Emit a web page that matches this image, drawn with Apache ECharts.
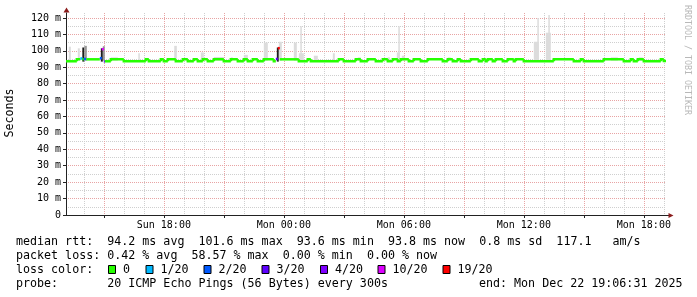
<!DOCTYPE html>
<html><head><meta charset="utf-8">
<script src="https://cdn.jsdelivr.net/npm/echarts@6/dist/echarts.min.js"></script>
<style>html,body{margin:0;padding:0;background:#fff}#c{width:697px;height:297px}</style>
</head><body><div id="c"></div>
<script>
// ---- time range (hours since Sun 00:00) ----
const T0 = 13 + 6/60 + 31/3600;   // Sun 13:06:31
const T1 = T0 + 30;               // Mon 19:06:31

// ---- median rtt runs: start hour, value (ms), pings lost out of 20 ----
const medianStart = [13.109,13.65,13.825,13.925,14.00,14.125,14.80,14.90,15.00,15.05,
  15.35,16.00,17.10,17.25,17.85,18.00,18.20,18.60,18.95,19.20,
  19.50,19.70,19.95,20.20,20.50,21.00,21.35,21.70,22.00,22.20,
  22.45,22.70,23.00,23.50,23.60,23.70,23.80,24.75,25.20,25.35,
  26.75,27.00,27.60,27.85,28.20,28.60,28.95,29.20,29.45,29.70,
  29.85,30.25,30.50,30.85,31.20,31.95,32.20,32.45,32.70,32.85,
  33.35,33.75,33.95,34.10,34.20,34.45,34.60,34.95,35.20,35.50,
  35.60,36.00,37.50,38.50,38.85,39.00,40.00,41.00,41.35,41.50,
  41.70,42.00,42.85,43.00];
const medianValue = [93.6,94.8,95.3,94.8,95.0,94.8,95.5,101.0,93.4,93.6,
  94.8,93.6,94.8,93.6,94.8,93.6,94.8,93.6,94.8,93.6,
  94.8,93.6,94.8,93.6,94.8,93.6,94.8,93.6,94.8,93.6,
  94.8,93.6,94.8,93.6,95.0,101.6,94.8,93.6,94.8,93.6,
  94.8,93.6,94.8,93.6,94.8,93.6,94.8,93.6,94.8,93.6,
  94.8,93.6,94.8,93.6,94.8,93.6,94.8,93.6,94.8,93.6,
  94.8,93.6,94.8,93.6,94.8,93.6,94.8,93.6,94.8,93.6,
  94.8,93.6,94.8,93.6,94.8,93.6,94.8,93.6,94.8,93.6,
  94.8,93.6,94.8,93.8];
const medianLoss = [0,0,1,0,2,0,2,10,3,0,
  0,0,0,0,0,0,0,0,0,0,
  0,0,0,0,0,0,0,0,0,0,
  0,0,0,0,3,19,0,0,0,0,
  0,0,0,0,0,0,0,0,0,0,
  0,0,0,0,0,0,0,0,0,0,
  0,0,0,0,0,0,0,0,0,0,
  0,0,0,0,0,0,0,0,0,0,
  0,0,0,0];

// ---- smoke (ping spread) bars: start hour, end hour, low ms, high ms, shade ----
const smokeStart = [13.25,13.70,13.925,14.025,14.85,14.95,15.35,16.725,18.52,19.85,
  20.50,21.35,22.00,23.00,23.65,23.75,24.50,24.75,24.825,25.50,
  26.45,27.70,29.20,29.65,29.725,29.90,32.20,36.50,36.675,37.10,
  37.225,40.35,41.75];
const smokeEnd = [13.35,13.80,14.025,14.15,14.95,15.05,15.70,16.80,18.65,20.00,
  21.00,21.45,22.20,23.20,23.75,23.90,24.65,25.00,24.90,25.70,
  26.55,27.85,29.30,29.80,29.80,30.05,32.35,36.75,36.75,37.35,
  37.30,40.70,41.95];
const smokeLow = [94,94,93.4,94,93.4,94,94,94,94,94,
  94,94,94,94,93.4,94,94,94,94,94,
  94,94,94,94,94,94,94,94,94,94,
  94,94,94];
const smokeHigh = [102.5,101.5,102,103,101.5,102.8,96,98.5,103,99,
  96.2,96,97.5,105,102,105.5,105,98.5,115,97,
  98.5,96,96,99,115,97,96,105.5,120,111,
  121.8,96,96];
const smokeShade = [0,0,2,1,2,1,0,0,0,0,
  0,0,0,0,2,0,0,0,0,0,
  0,0,0,0,0,0,0,0,0,0,
  0,0,0];

// ---- loss colour legend ----
const lossLevels = [0,1,2,3,4,10,19];
const lossLabels = ['0','1/20','2/20','3/20','4/20','10/20','19/20'];
const lossColors = ['#26ff00','#00b8ff','#0059ff','#5e00ff','#7e00ff','#dd00ff','#ff0000'];

// ---- summary statistics ----
const rttStats = [94.2,101.6,93.6,93.8,0.8];
const rttStatNames = ['avg','max','min','now','sd'];
const amPerSec = 117.1;
const lossStats = [0.42,58.57,0.00,0.00];
const lossStatNames = ['avg','max','min','now'];
const probeText = '20 ICMP Echo Pings (56 Bytes) every 300s';
const endText = 'end: Mon Dec 22 19:06:31 2025';

// ---- styling ----
const MONO = '"DejaVu Sans Mono", monospace';
const SHADES = ['#dcdcdc','#9a9a9a','#1e1e1e'];
const GRID_MINOR = '#cfcfcf', GRID_MAJOR = '#e8a4a4', AXIS = '#222', ARROW = '#8b1c1c';

function lossColor(l){ let c = lossColors[0]; lossLevels.forEach((lv,i)=>{ if (l >= lv) c = lossColors[i]; }); return c; }

const smokeData = smokeStart.map((s,i)=>[s, smokeEnd[i], smokeLow[i], smokeHigh[i], smokeShade[i]]);
const medianData = medianStart.map((s,i)=>{
  const e = i+1 < medianStart.length ? medianStart[i+1] : T1;
  const con = (i>0 && medianLoss[i-1] === medianLoss[i]) ? 1 : 0;
  const pv = i>0 ? medianValue[i-1] : medianValue[i];
  return [s, e, medianValue[i], pv, medianLoss[i], con];
});

const chart = echarts.init(document.getElementById('c'));
const dashed = [1,1];
function xLabel(v){
  const h = Math.round(v);
  if (Math.abs(v-h) > 1e-6 || h % 6 !== 0) return '';
  const day = h < 24 ? 'Sun' : 'Mon';
  const hh = h % 24;
  return day + ' ' + (hh<10?'0':'') + hh + ':00';
}
chart.setOption({
  animation:false,
  backgroundColor:'#fff',
  textStyle:{fontFamily:MONO},
  grid:{left:66, top:13, width:600, height:202, containLabel:false},
  xAxis:[
    {type:'value', position:'top', min:T0, max:T1, splitNumber:30, minInterval:1, maxInterval:1, z:0,
     axisLine:{show:false}, axisTick:{show:false}, axisLabel:{show:false},
     splitLine:{show:true, showMinLine:false, showMaxLine:false, lineStyle:{color:GRID_MINOR, type:dashed, width:1}}},
    {type:'value', position:'bottom', min:T0, max:T1, splitNumber:10, minInterval:3, maxInterval:3, z:1,
     axisLine:{show:true, onZero:false, lineStyle:{color:AXIS, width:1}},
     axisTick:{show:true, length:3, lineStyle:{color:AXIS}},
     axisLabel:{show:true, formatter:xLabel, showMinLabel:false, showMaxLabel:false, fontSize:10, fontFamily:MONO, color:'#000', margin:5},
     splitLine:{show:true, showMinLine:false, showMaxLine:false, lineStyle:{color:GRID_MAJOR, type:dashed, width:1}}}
  ],
  yAxis:[
    {type:'value', position:'right', min:0, max:123, interval:5, z:0,
     axisLine:{show:false}, axisTick:{show:false}, axisLabel:{show:false},
     splitLine:{show:true, showMinLine:false, showMaxLine:false, lineStyle:{color:GRID_MINOR, type:dashed, width:1}}},
    {type:'value', position:'left', min:0, max:123, interval:10, z:2,
     axisLine:{show:true, onZero:false, lineStyle:{color:AXIS, width:1}},
     axisTick:{show:true, length:3, lineStyle:{color:AXIS}},
     axisLabel:{show:true, showMaxLabel:false, fontSize:10, fontFamily:MONO, color:'#000', margin:5,
       formatter:v=> v===0 ? '0' : v+' m'},
     splitLine:{show:true, showMinLine:false, showMaxLine:false, lineStyle:{color:GRID_MAJOR, type:dashed, width:1}}}
  ],
  series:[
    {type:'custom', name:'smoke', xAxisIndex:1, yAxisIndex:1, clip:true, z:2,
     encode:{x:[0,1], y:[2,3]}, data:smokeData,
     renderItem(params, api){
       const p0 = api.coord([api.value(0), api.value(3)]);
       const p1 = api.coord([api.value(1), api.value(2)]);
       return {type:'rect', shape:{x:p0[0], y:p0[1], width:p1[0]-p0[0], height:p1[1]-p0[1]},
               style:{fill:SHADES[api.value(4)]}};
     }},
    {type:'custom', name:'median', xAxisIndex:1, yAxisIndex:1, clip:true, z:3,
     encode:{x:[0,1], y:[2]}, data:medianData,
     renderItem(params, api){
       const s=api.value(0), e=api.value(1), v=api.value(2), pv=api.value(3), l=api.value(4), con=api.value(5);
       const a = api.coord([s,v]), b = api.coord([e,v]);
       const pts = con ? [[a[0], api.coord([s,pv])[1]], a, b] : [a, b];
       return {type:'polyline', shape:{points:pts}, style:{stroke:lossColor(l), lineWidth:2.5, fill:null, lineJoin:'miter'}};
     }}
  ]
});

// ---- annotations, legend, arrows ----
const xL = chart.convertToPixel({xAxisIndex:1}, T0);
const xR = chart.convertToPixel({xAxisIndex:1}, T1);
const yB = chart.convertToPixel({yAxisIndex:1}, 0);
const yT = chart.convertToPixel({yAxisIndex:1}, 123);
const ax = Math.round(xL) + 0.5, ay = Math.round(yB) + 0.5;
const LF = '11.67px ' + MONO;
const g = [];
function txt(s, x, y, extra){ g.push(Object.assign({type:'text', x, y, style:{text:s, font:LF, fill:'#000', align:'left', verticalAlign:'middle'}}, extra||{})); }
// arrows
g.push({type:'polygon', shape:{points:[[ax-3, yT-0.5],[ax+3, yT-0.5],[ax, yT-5.5]]}, style:{fill:ARROW}});
g.push({type:'line', shape:{x1:xR, y1:ay, x2:xR+3, y2:ay}, style:{stroke:AXIS, lineWidth:1}});
g.push({type:'polygon', shape:{points:[[xR+2.5, ay-2.5],[xR+2.5, ay+2.5],[xR+7.5, ay]]}, style:{fill:ARROW}});
// axis title
g.push({type:'text', x:10, y:113, rotation:Math.PI/2, style:{text:'Seconds', font:LF, fill:'#000', align:'center', verticalAlign:'middle'}});
// watermark
g.push({type:'text', x:687.5, y:5, rotation:-Math.PI/2, style:{text:'RRDTOOL / TOBI OETIKER', font:'8.3px '+MONO, fill:'#b8b8b8', align:'left', verticalAlign:'middle'}});
// legend rows
const rowY = [241.5, 255.5, 269.5, 283.5];
txt('median rtt:  ' + rttStats.map((v,i)=>v.toFixed(1)+' ms '+rttStatNames[i]).join('  ') + '  ' + amPerSec.toFixed(1) + '   am/s', 16, rowY[0]);
txt('packet loss: ' + lossStats.map((v,i)=>v.toFixed(2)+' % '+lossStatNames[i]).join('  '), 16, rowY[1]);
txt('loss color:', 16, rowY[2]);
const boxX = [108, 145.5, 203.5, 261.5, 320, 377.5, 442.5];
lossLabels.forEach((lab,i)=>{
  g.push({type:'rect', shape:{x:boxX[i]+0.5, y:265.5, width:7, height:8}, style:{fill:lossColors[i], stroke:'#000', lineWidth:1}});
  txt(lab, boxX[i]+15, rowY[2]);
});
txt('probe:       ' + probeText, 16, rowY[3]);
txt(endText, 479, rowY[3]);
chart.setOption({graphic:g});
</script>
</body></html>
